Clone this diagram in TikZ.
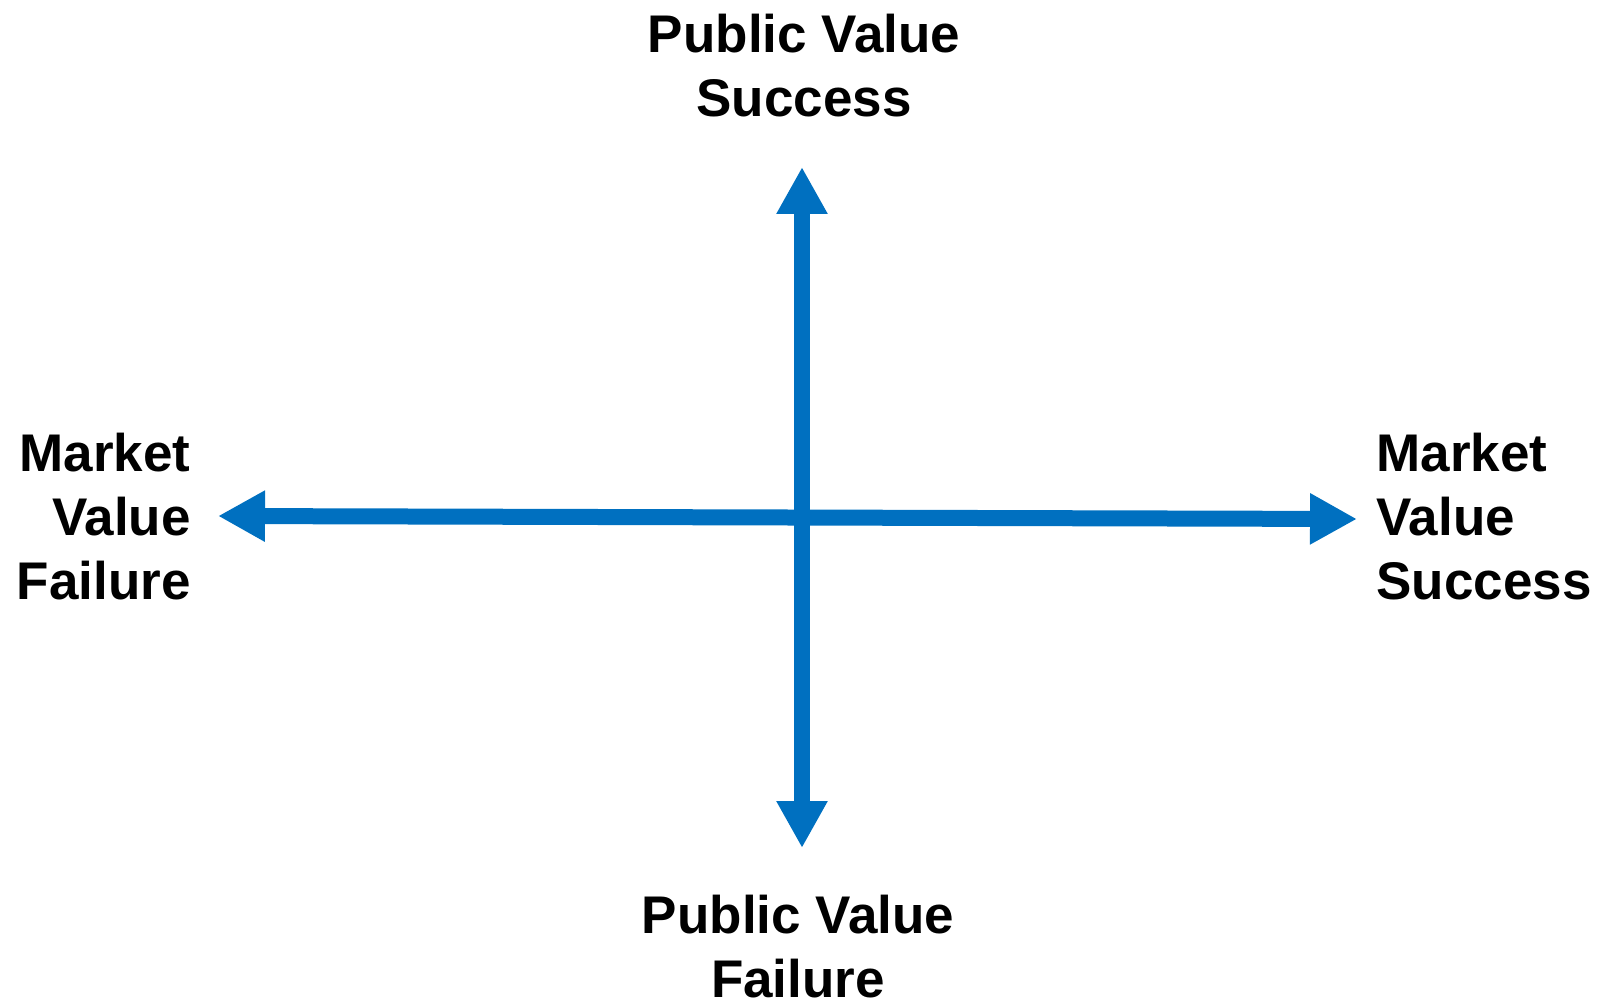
\documentclass[tikz,border=0pt]{standalone}
\usepackage{fontspec}
\setmainfont{Liberation Sans}
\usetikzlibrary{arrows.meta}
\definecolor{axisblue}{HTML}{0070C0}

\begin{document}
\begin{tikzpicture}
            [x=0.5pt,y=-0.5pt,
             every node/.style={font=\fontsize{26.5}{32}\selectfont\bfseries,inner sep=0pt},
             axisline/.style={axisblue,line width=8pt,{Triangle[length=23.5pt,width=24pt]}-{Triangle[length=23.5pt,width=24pt]}}]
            \useasboundingbox (0,0) rectangle (1598,1004);
            \coordinate (t) at (802,167);
            \coordinate (b) at (802,848);
            \coordinate (l) at (218,516);
            \coordinate (r) at (1357,519);
            % the axes
            \draw[axisline] (b) -- (t);
            \draw[axisline] (l) -- (r);
            % labels
            \node[align=center] (pvs) at (804,66) {Public Value\\Success};
            \node[align=center] (pvf) at (798,947) {Public Value\\Failure};
            \node[align=right,anchor=east] (mvf) at (191,517) {Market\\Value\\Failure};
            \node[align=left,anchor=west] (mvs) at (1376,517) {Market\\Value\\Success};
\end{tikzpicture}
\end{document}
